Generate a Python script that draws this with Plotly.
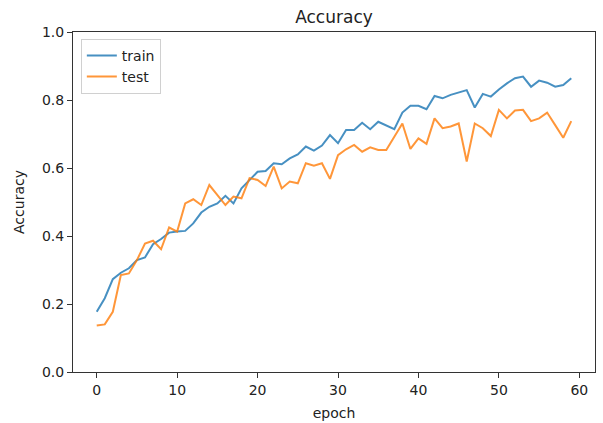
import plotly.graph_objects as go

epochs = list(range(60))
train_acc = [0.177, 0.217, 0.273, 0.292, 0.305, 0.329, 0.337, 0.376, 0.391, 0.410,
             0.413, 0.415, 0.437, 0.469, 0.486, 0.496, 0.518, 0.496, 0.540, 0.565,
             0.589, 0.591, 0.614, 0.611, 0.628, 0.640, 0.663, 0.651, 0.666, 0.697,
             0.673, 0.712, 0.712, 0.733, 0.714, 0.736, 0.726, 0.714, 0.763, 0.783,
             0.783, 0.773, 0.812, 0.805, 0.815, 0.823, 0.829, 0.778, 0.818, 0.810,
             0.831, 0.849, 0.864, 0.869, 0.839, 0.857, 0.851, 0.839, 0.844, 0.864]
test_acc = [0.137, 0.140, 0.177, 0.285, 0.290, 0.329, 0.378, 0.386, 0.361, 0.425,
            0.413, 0.496, 0.508, 0.491, 0.550, 0.521, 0.491, 0.516, 0.511, 0.570,
            0.565, 0.547, 0.604, 0.540, 0.560, 0.555, 0.614, 0.607, 0.614, 0.568,
            0.638, 0.655, 0.668, 0.648, 0.661, 0.653, 0.653, 0.692, 0.731, 0.656,
            0.687, 0.671, 0.746, 0.717, 0.722, 0.731, 0.619, 0.731, 0.717, 0.694,
            0.771, 0.746, 0.769, 0.771, 0.738, 0.746, 0.763, 0.726, 0.689, 0.738]
x_ticks = [0, 10, 20, 30, 40, 50, 60]
y_ticks = [0.0, 0.2, 0.4, 0.6, 0.8, 1.0]

font = "DejaVu Sans"
fig = go.Figure()
fig.add_trace(go.Scatter(x=epochs, y=train_acc, mode="lines", name="train",
                         line=dict(color="rgba(31,119,180,0.82)", width=2)))
fig.add_trace(go.Scatter(x=epochs, y=test_acc, mode="lines", name="test",
                         line=dict(color="rgba(255,127,14,0.82)", width=2)))

fig.update_layout(
    width=603, height=423,
    margin=dict(l=73, r=8, t=32, b=51),
    paper_bgcolor="white", plot_bgcolor="white",
    font=dict(family=font, size=14, color="#222222"),
    title=dict(text="Accuracy", x=(73 + 595) / 2 / 603, xanchor="center",
               y=1 - 17 / 423, yanchor="middle", yref="container",
               font=dict(size=17, color="#222222")),
    legend=dict(x=0.015, y=0.98, xanchor="left", yanchor="top",
                bgcolor="rgba(255,255,255,0.8)", bordercolor="#d0d0d0",
                borderwidth=1, font=dict(size=14), tracegroupgap=0),
    showlegend=True,
)
fig.update_xaxes(range=[-2.95, 61.95], tickvals=x_ticks, showgrid=False,
                 zeroline=False, showline=True, linecolor="#333333", linewidth=1,
                 mirror=True, ticks="outside", ticklen=5, tickcolor="#333333",
                 automargin=False,
                 title=dict(text="epoch", standoff=11, font=dict(size=14)))
fig.update_yaxes(range=[0, 1], tickvals=y_ticks, tickformat=".1f", showgrid=False,
                 zeroline=False, showline=True, linecolor="#333333", linewidth=1,
                 mirror=True, ticks="outside", ticklen=5, tickcolor="#333333",
                 automargin=False,
                 title=dict(text="Accuracy", standoff=14, font=dict(size=14)))

fig.write_html("out.html")
